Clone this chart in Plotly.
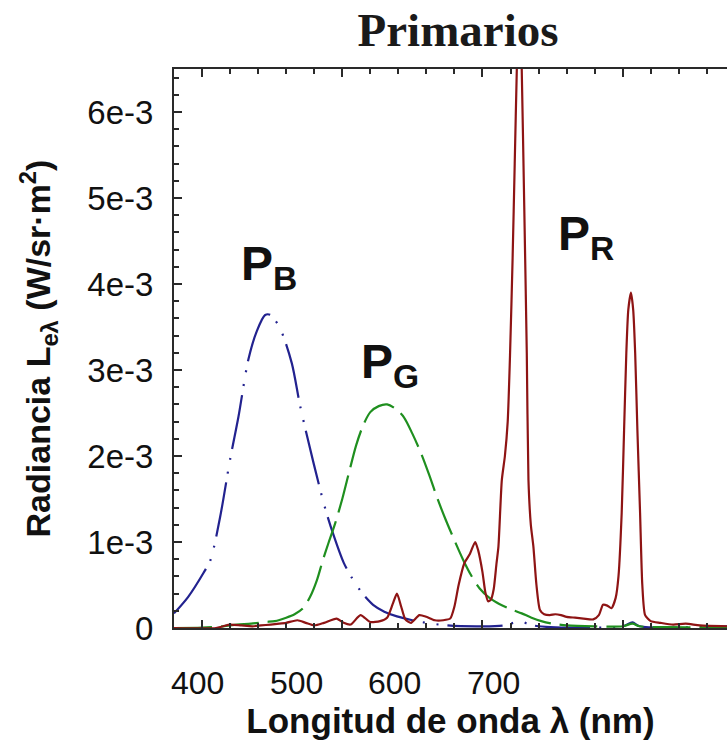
import plotly.graph_objects as go

# Spectral radiance of the three display primaries (W/sr·m² per nm), wavelengths in nm
blue_nm = [380, 390, 401, 406, 413, 420, 426, 433, 439, 445, 449, 456, 464, 470, 479.5, 488, 494, 501,
           507, 514, 522, 530, 539, 550, 560, 575, 600, 615, 622, 627, 632, 640, 700, 707, 712, 775]
blue_val = [0.17, 0.36, 0.64, 0.79, 1.30, 1.96, 2.46, 3.12, 3.45, 3.64, 3.64, 3.47, 3.08, 2.58, 1.92, 1.38,
            1.07, 0.76, 0.58, 0.41, 0.27, 0.19, 0.135, 0.09, 0.06, 0.03, 0.02, 0.03, 0.06, 0.08, 0.05,
            0.02, 0.02, 0.065, 0.02, 0.02]

green_nm = [380, 400, 415, 425, 435, 445, 452, 460, 466, 472, 477, 482, 486, 490, 495, 500, 505, 510, 515,
            520, 526, 532, 538, 544, 550, 556, 562, 568, 574, 580, 586, 592, 598, 605, 612, 620, 628, 635,
            642, 650, 660, 680, 700, 707, 712, 730, 775]
green_val = [0.0, 0.005, 0.02, 0.04, 0.05, 0.07, 0.08, 0.12, 0.16, 0.23, 0.36, 0.56, 0.78, 0.98, 1.22, 1.5,
             1.82, 2.13, 2.36, 2.51, 2.58, 2.6, 2.55, 2.45, 2.26, 2.04, 1.78, 1.5, 1.25, 1.02, 0.8, 0.61,
             0.46, 0.35, 0.28, 0.22, 0.17, 0.12, 0.08, 0.05, 0.03, 0.02, 0.02, 0.05, 0.02, 0.01, 0.01]

red_nm = [380, 410, 415, 420, 428, 436, 442, 449, 455, 460, 468, 474, 480, 487, 496, 501, 506, 513, 520,
          527, 532, 536, 539, 542, 545, 549, 555, 560, 566, 572, 577, 580, 583, 587, 591, 594.8, 597, 600,
          602, 604, 606, 608, 610, 611.4, 613.8, 616, 618, 619.7, 621.5, 623, 624.5, 626.3, 628, 629.8,
          631.6, 632.8, 634.5, 636.3, 638.5, 641, 644, 648, 652, 656, 660, 666, 672, 679, 683, 686, 689,
          692, 695, 697, 699.3, 701, 702.6, 704, 705.9, 707.5, 708.9, 710.5, 712.4, 714, 716, 720, 727,
          736, 745, 755, 775]
red_val = [0.0, 0.0, 0.02, 0.04, 0.03, 0.02, 0.03, 0.04, 0.05, 0.06, 0.09, 0.06, 0.03, 0.06, 0.11, 0.06,
           0.04, 0.15, 0.07, 0.08, 0.12, 0.28, 0.40, 0.25, 0.10, 0.06, 0.15, 0.13, 0.09, 0.09, 0.11, 0.25,
           0.5, 0.75, 0.86, 1.0, 0.9, 0.65, 0.42, 0.31, 0.33, 0.45, 0.75, 0.95, 1.72, 2.0, 2.4, 3.2, 4.3,
           5.4, 6.5, 7.6, 6.5, 4.9, 3.2, 1.72, 1.2, 0.95, 0.5, 0.21, 0.16, 0.15, 0.16, 0.15, 0.13, 0.12,
           0.11, 0.10, 0.15, 0.27, 0.26, 0.23, 0.35, 0.6, 1.34, 2.3, 3.2, 3.7, 3.9, 3.7, 3.2, 2.3, 1.34,
           0.5, 0.15, 0.08, 0.06, 0.04, 0.05, 0.03, 0.02]

# x-axis label texts and their horizontal placement along the bottom axis (fraction of axis width)
x_tick_labels = ["400", "500", "600", "700"]
x_label_pos = [0.042, 0.222, 0.399, 0.578]
y_ticks = [0, 1e-3, 2e-3, 3e-3, 4e-3, 5e-3, 6e-3]
y_tick_labels = ["0", "1e-3", "2e-3", "3e-3", "4e-3", "5e-3", "6e-3"]

primary_labels = ["P<sub>B</sub>", "P<sub>G</sub>", "P<sub>R</sub>"]
label_nm = [448, 534, 674]
label_val = [4.2e-3, 3.06e-3, 4.55e-3]

BLUE = "#22228f"
GREEN = "#1f8f1f"
RED = "#8e1414"
INK = "#111111"
AXIS = "#2a2a2a"
SANS = "Arial, Liberation Sans"


def scaled(vals):
    return [v * 1e-3 for v in vals]


fig = go.Figure()
fig.add_trace(go.Scatter(x=blue_nm, y=scaled(blue_val), mode="lines",
                         line=dict(color=BLUE, width=2.2, shape="spline", smoothing=0.8,
                                   dash="55px,9px,2px,12px,2px,9px")))
fig.add_trace(go.Scatter(x=green_nm, y=scaled(green_val), mode="lines",
                         line=dict(color=GREEN, width=2.2, shape="spline", smoothing=0.8,
                                   dash="38px,9px")))
fig.add_trace(go.Scatter(x=red_nm, y=scaled(red_val), mode="lines",
                         line=dict(color=RED, width=2.2, shape="spline", smoothing=0.6)))

for txt, xv, yv in zip(primary_labels, label_nm, label_val):
    fig.add_annotation(x=xv, y=yv, xref="x", yref="y", text="<b>" + txt + "</b>",
                       showarrow=False, xanchor="center", yanchor="middle",
                       font=dict(family=SANS, size=48, color=INK))

for txt, xp in zip(x_tick_labels, x_label_pos):
    fig.add_annotation(x=xp, y=-0.098, xref="paper", yref="paper", text=txt,
                       showarrow=False, xanchor="center", yanchor="middle",
                       font=dict(family=SANS, size=32, color=INK))

axis_common = dict(showline=True, linecolor=AXIS, linewidth=2, ticks="inside",
                   tickcolor=AXIS, tickwidth=2, ticklen=8, showgrid=False, zeroline=False)

fig.update_layout(
    width=727, height=745,
    margin=dict(l=174, r=0, t=69, b=117),
    paper_bgcolor="white", plot_bgcolor="white",
    showlegend=False,
    title=dict(text="<b>Primarios</b>", x=0.63, y=1 - 30 / 745, xanchor="center", yanchor="middle",
               font=dict(family="Liberation Serif, Times New Roman", size=47, color="#1a1a1a")),
    xaxis=dict(range=[380, 774.4], dtick=100, tick0=400, showticklabels=False, mirror="ticks",
               minor=dict(dtick=20, ticks="inside", ticklen=5, tickcolor=AXIS, tickwidth=2),
               title=dict(text="<b>Longitud de onda λ (nm)</b>", standoff=79,
                          font=dict(family=SANS, size=35, color=INK)),
               **axis_common),
    yaxis=dict(range=[0, 6.5e-3], tickvals=y_ticks, ticktext=y_tick_labels, mirror=False,
               ticklabelstandoff=12,
               tickfont=dict(family=SANS, size=33, color=INK),
               minor=dict(dtick=0.2e-3, ticks="inside", ticklen=5, tickcolor=AXIS, tickwidth=2),
               title=dict(text="<b>Radiancia L<sub>eλ</sub> (W/sr·m<sup>2</sup>)</b>", standoff=26,
                          font=dict(family=SANS, size=34, color=INK)),
               **axis_common),
)

fig.write_html("out.html")
